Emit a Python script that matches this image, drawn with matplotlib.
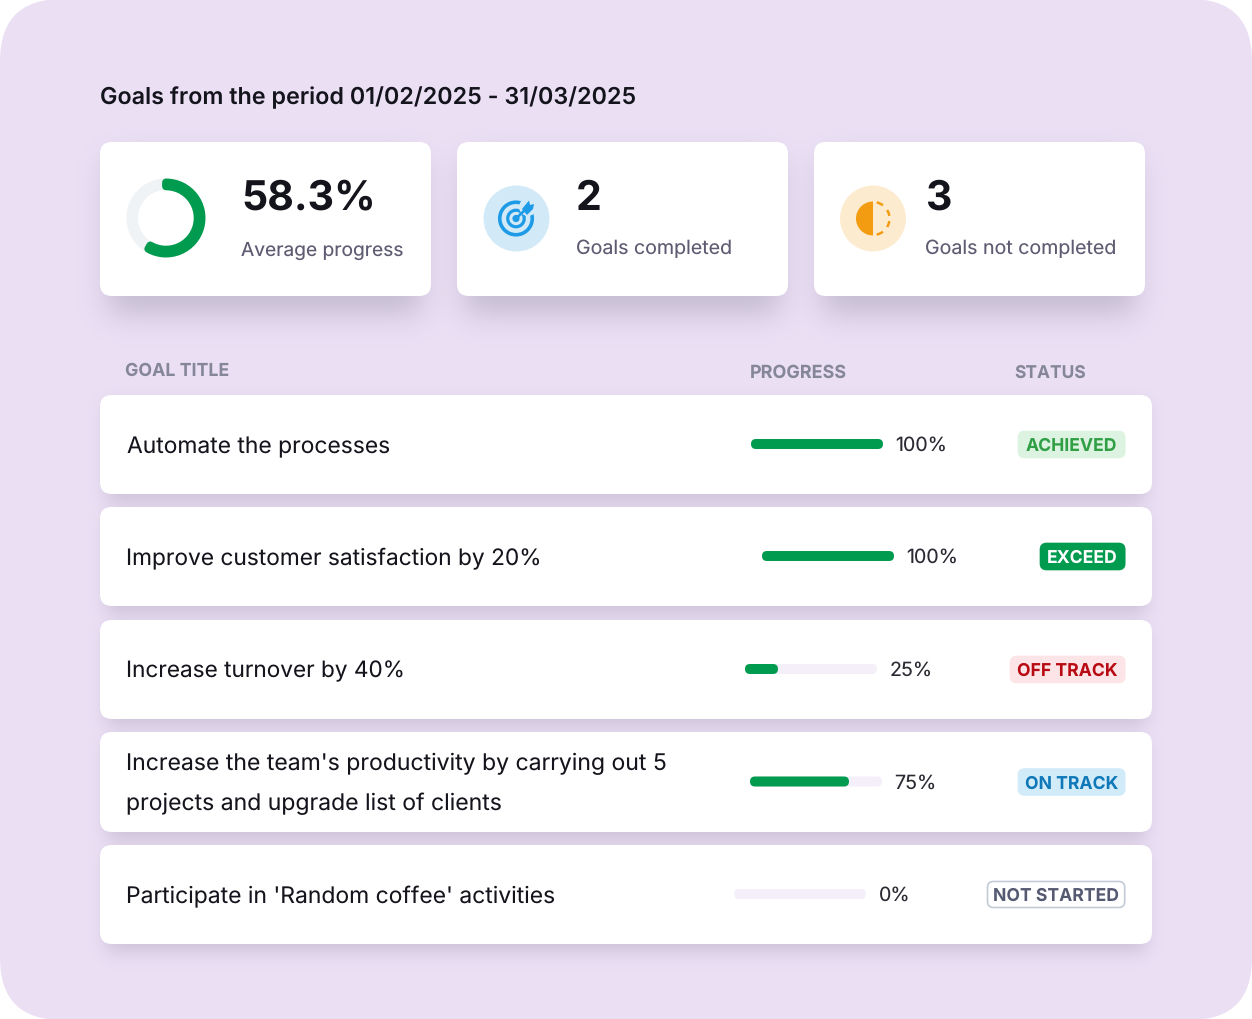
import numpy as np
import matplotlib
matplotlib.use("Agg")
import matplotlib.pyplot as plt
from matplotlib.patches import FancyBboxPatch, Circle, Wedge, Arc, Polygon

plt.rcParams["font.family"] = ["Inter", "Noto Sans", "DejaVu Sans"]
plt.rcParams["text.hinting"] = "no_hinting"
plt.rcParams["text.hinting_factor"] = 1

# ---------- data ----------
title = "Goals from the period 01/02/2025 - 31/03/2025"
avg_progress = 58.3
goals_completed = 2
goals_not_completed = 3
kpi_labels = ["Average progress", "Goals completed", "Goals not completed"]
column_headers = ["GOAL TITLE", "PROGRESS", "STATUS"]
goal_titles = [
    "Automate the processes",
    "Improve customer satisfaction by 20%",
    "Increase turnover by 40%",
    "Increase the team's productivity by carrying out 5\nprojects and upgrade list of clients",
    "Participate in 'Random coffee' activities",
]
goal_progress = [100, 100, 25, 75, 0]
goal_status = ["ACHIEVED", "EXCEED", "OFF TRACK", "ON TRACK", "NOT STARTED"]

# ---------- layout and style ----------
W, H = 1252, 1020
BG = "#ebdff4"
GREEN = "#009b4e"
TRACK = "#f5effa"
DARK = "#14141c"
GREY = "#5e5c72"
HEAD = "#858798"
card_x = [100, 457, 814]
row_top = [395, 507, 620, 732, 845]
row_bottom = [494, 606, 719, 832, 944]
bar_x = [751, 762, 745, 750, 734]
badge_left = [1018, 1040, 1010, 1018, 987]
title_px = [22.85, 22.7, 22.6, 23.0, 22.9]
header_px = [17.8, 18.0, 17.4]
kpi_label_px = [19.2, 19.6, 19.6]
badge_style = {
    "ACHIEVED": ("#dbf3e0", "#dbf3e0", "#2f9e44"),
    "EXCEED": (GREEN, GREEN, "#ffffff"),
    "OFF TRACK": ("#fde4e6", "#fde4e6", "#b80a12"),
    "ON TRACK": ("#d2ebf9", "#d2ebf9", "#0f78b8"),
    "NOT STARTED": ("#ffffff", "#c3cbd6", "#555a72"),
}

fig = plt.figure(figsize=(W / 100, H / 100), dpi=100, facecolor="white")
ax = fig.add_axes([0, 0, 1, 1])
ax.axis("off")


def rrect(x0, y0, x1, y1, r, fc, ec="none", lw=0, z=1, alpha=None):
    p = FancyBboxPatch((x0, y0), x1 - x0, y1 - y0,
                       boxstyle=f"round,pad=0,rounding_size={r}",
                       fc=fc, ec=ec, lw=lw, zorder=z, alpha=alpha)
    ax.add_patch(p)
    return p


def blur(a, sigma):
    k = np.exp(-0.5 * (np.arange(-int(3 * sigma), int(3 * sigma) + 1) / sigma) ** 2)
    k /= k.sum()
    a = np.apply_along_axis(lambda m: np.convolve(m, k, mode="same"), 0, a)
    a = np.apply_along_axis(lambda m: np.convolve(m, k, mode="same"), 1, a)
    return a


def add_shadows(rects, sigma, strength):
    """Soft drop shadow drawn as an RGBA image; rects are pixel boxes."""
    m = np.zeros((H // 2, W // 2))
    for x0, y0, x1, y1 in rects:
        m[int(y0) // 2:int(y1) // 2, int(x0) // 2:int(x1) // 2] = 1
    m = blur(m, sigma / 2)
    img = np.zeros(m.shape + (4,))
    img[..., :3] = np.array([0x6a, 0x68, 0x80]) / 255
    img[..., 3] = m * strength
    ax.imshow(img, extent=(0, W, H, 0), zorder=0.5, aspect="auto", interpolation="bilinear")


def px(pt):
    return pt * 0.72


# background
rrect(0, -1, W, H, 62, BG, z=0)

ax.text(100, 96.5, title, fontsize=px(23.35), fontweight=600, color=DARK, va="center", ha="left", zorder=5)

# soft shadows
add_shadows([(x + 8, 142 + 18, x + 323, 296 + 18) for x in card_x], 15, 0.30)
add_shadows([(106, t + 10, 1146, b + 8) for t, b in zip(row_top, row_bottom)], 9, 0.24)
ax.set_xlim(0, W)
ax.set_ylim(H - 1, -1)

# KPI cards
for x in card_x:
    rrect(x, 142, x + 331, 296, 12, "white", z=2)

# donut, drawn from the value
dax = fig.add_axes([126 / W, 1 - 259 / H, 80 / W, 80 / H])
dax.set_aspect("equal")
dax.axis("off")
dax.patch.set_alpha(0)
dax.pie([avg_progress, 100 - avg_progress], colors=["none", "#f0f3f6"], startangle=90, counterclock=False,
        radius=0.99, wedgeprops={"width": 0.29, "linewidth": 0})
green_wedges, _ = dax.pie([avg_progress, 100 - avg_progress], colors=[GREEN, "none"], startangle=90,
                          counterclock=False, radius=0.89,
                          wedgeprops={"width": 0.10, "linewidth": 0})
green_wedges[0].set(edgecolor=GREEN, linewidth=5.6, joinstyle="round")
dax.set_xlim(-1, 1)
dax.set_ylim(-1, 1)

ax.text(241.5, 197.5, f"{avg_progress}%", fontsize=px(41), fontweight=700, color=DARK, va="center", ha="left", zorder=5)
ax.text(241, 250, kpi_labels[0], fontsize=px(kpi_label_px[0]), color=GREY, va="center", ha="left", zorder=5)

# target icon
ax.add_patch(Circle((516.5, 218.5), 33, fc="#d2e9f8", ec="none", zorder=3))
BLUE = "#1d9be6"
ax.add_patch(Arc((516, 218.5), 32.5, 32.5, theta1=0, theta2=360, color=BLUE, lw=2.6, zorder=4))
ax.add_patch(Arc((516, 218.5), 16.5, 16.5, theta1=0, theta2=360, color=BLUE, lw=2.3, zorder=4))
ax.add_patch(Circle((516, 218.5), 3.6, fc=BLUE, ec="none", zorder=4))
ax.add_patch(Circle((528, 207), 9, fc="#d2e9f8", ec="none", zorder=4))
ax.plot([516, 528], [218.5, 207], color=BLUE, lw=1.9, zorder=5)
ax.add_patch(Polygon([(522, 209), (529, 200.5), (530, 205), (534, 204), (533, 209), (527, 215)], fc=BLUE, ec="none", zorder=5))

ax.text(576, 198, str(goals_completed), fontsize=px(41), fontweight=700, color=DARK, va="center", ha="left", zorder=5)
ax.text(576, 248, kpi_labels[1], fontsize=px(kpi_label_px[1]), color=GREY, va="center", ha="left", zorder=5)

# half circle icon
ORANGE = "#f39c12"
ax.add_patch(Circle((873, 218.5), 33, fc="#fdebd0", ec="none", zorder=3))
ax.add_patch(Wedge((873, 218.5), 17, 90, 270, fc=ORANGE, ec="none", zorder=4))
for a, b in [(53, 77), (9, 31), (-31, -9), (-77, -53)]:
    ax.add_patch(Arc((873, 218.5), 33, 33, theta1=a, theta2=b, color=ORANGE, lw=1.8, zorder=4))

ax.text(925, 198, str(goals_not_completed), fontsize=px(41), fontweight=700, color=DARK, va="center", ha="left", zorder=5)
ax.text(925, 248, kpi_labels[2], fontsize=px(kpi_label_px[2]), color=GREY, va="center", ha="left", zorder=5)

# column headers
for s, x, y, sz in zip(column_headers, [125, 750, 1014], [370, 372, 372], header_px):
    ax.text(x, y, s, fontsize=px(sz), fontweight=700, color=HEAD, va="center", ha="left", zorder=5)

# rows
for i, (t, b) in enumerate(zip(row_top, row_bottom)):
    rrect(100, t, 1152, b, 12, "white", z=2)
    yc = (t + b) / 2
    size = px(title_px[i])
    if "\n" in goal_titles[i]:
        a, c = goal_titles[i].split("\n")
        ax.text(126.5, 763, a, fontsize=size, color=DARK, va="center", ha="left", zorder=5)
        ax.text(126.5, 803, c, fontsize=size, color=DARK, va="center", ha="left", zorder=5)
    else:
        ax.text(126.5 + (0.5 if i == 0 else 0), yc + (2 if i == 0 else 1), goal_titles[i], fontsize=size,
                color=DARK, va="center", ha="left", zorder=5)

    # progress bar: own axes with 0-100 scale, 132 px wide and 10 px tall
    yb = yc - 0.5
    pax = fig.add_axes([bar_x[i] / W, 1 - (yb + 6) / H, 132 / W, 10 / H])
    pax.set_xlim(0, 100)
    pax.set_ylim(-1, 1)
    pax.axis("off")
    for val, col in ((100, TRACK), (goal_progress[i], GREEN)):
        if val > 0:
            pax.add_patch(FancyBboxPatch((0, -1), val, 2,
                                         boxstyle="round,pad=0,rounding_size=3.79",
                                         mutation_aspect=0.264, fc=col, ec="none", clip_on=False))
    ax.text(bar_x[i] + 144.5, yb + 1, f"{goal_progress[i]}%", fontsize=px(19.6), color="#2a2a33", va="center", ha="left", zorder=5)

    # badge
    s = goal_status[i]
    fc, ec, tc = badge_style[s]
    rrect(badge_left[i] + 0.5, yb - 12.5, 1124.7, yb + 13.5, 6, fc, ec=ec, lw=1.2, z=3)
    ax.text((badge_left[i] + 1125) / 2, yb + 1.5, s, fontsize=px(17.6), fontweight=700, color=tc,
            va="center", ha="center", zorder=5)

fig.savefig("out.png", dpi=100, facecolor="white")
